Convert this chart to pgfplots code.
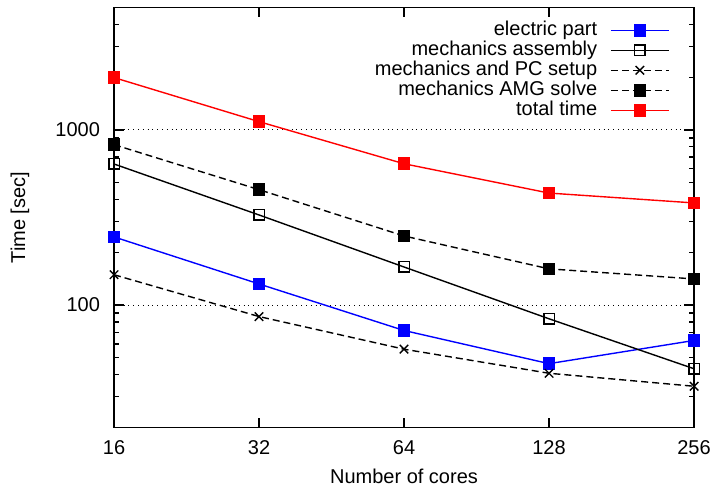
\documentclass[border=0pt]{standalone}
\usepackage{fontspec}
\setmainfont{Liberation Sans}
\usepackage{pgfplots}
\pgfplotsset{compat=1.18}

\begin{document}
\begin{tikzpicture}
\begin{axis}[
    scale only axis,
    width=290pt, height=210pt,
    xmode=log, log basis x=2,
    ymode=log,
    xmin=16, xmax=256,
    ymin=20, ymax=5000,
    xtick={16,32,64,128,256},
    xticklabels={16,32,64,128,256},
    ytick={100,1000},
    yticklabels={100,1000},
    minor ytick={20,30,40,50,60,70,80,90,200,300,400,500,600,700,800,900,2000,3000,4000,5000},
    /pgf/number format/assume math mode=true,
    tick align=inside,
    major tick length=5pt,
    minor tick length=2.5pt,
    tick style={black, line width=0.6pt},
    axis line style={line width=0.9pt},
    ymajorgrids,
    major grid style={black, dotted, line width=0.5pt},
    xticklabel style={yshift=-3pt},
    yticklabel style={xshift=-3.5pt},
    xlabel={Number of cores},
    ylabel={Time [sec]},
    xlabel style={at={(axis description cs:0.5,-0.117)}, anchor=center},
    ylabel style={at={(axis description cs:-0.162,0.5)}, anchor=center},
    legend plot pos=right,
    legend cell align=right,
    legend style={draw=none, fill=none, inner sep=0pt,
        at={(axis description cs:1,1)}, anchor=north east,
        xshift=-12pt, yshift=-6.2pt,
        row sep=0pt, column sep=6pt,
        nodes={inner sep=0.5pt, text height=7pt, text depth=2pt}},
    legend image code/.code={
        \draw[mark repeat=2,mark phase=2] plot coordinates {(0pt,0pt) (14.5pt,0pt) (29pt,0pt)};},
    every axis plot/.append style={line width=0.7pt},
]
\addplot[blue, mark=square*, mark size=2.8pt, mark options={solid}]
    coordinates {(16,245) (32,132) (64,71.6) (128,46.3) (256,62.8)};
\addlegendentry{electric part}
\addplot[black, mark=square, mark size=2.6pt, mark options={solid}]
    coordinates {(16,639) (32,327) (64,165) (128,83.5) (256,43.3)};
\addlegendentry{mechanics assembly}
\addplot[black, dash pattern=on 3.5pt off 2pt, mark=x, mark size=3pt, mark options={solid}]
    coordinates {(16,149) (32,86) (64,56) (128,40.8) (256,34.4)};
\addlegendentry{mechanics and PC setup}
\addplot[black, dash pattern=on 3.5pt off 2pt, mark=square*, mark size=2.8pt, mark options={solid}]
    coordinates {(16,824) (32,456) (64,248) (128,161) (256,141)};
\addlegendentry{mechanics AMG solve}
\addplot[red, mark=square*, mark size=2.8pt, mark options={solid}]
    coordinates {(16,1990) (32,1115) (64,641) (128,436) (256,383)};
\addlegendentry{total time}
\end{axis}
\pgfresetboundingbox
\path (current axis.south west) ++(-57pt,-30pt) rectangle ([shift={(10.5pt,3.75pt)}]current axis.north east);
\end{tikzpicture}
\end{document}
